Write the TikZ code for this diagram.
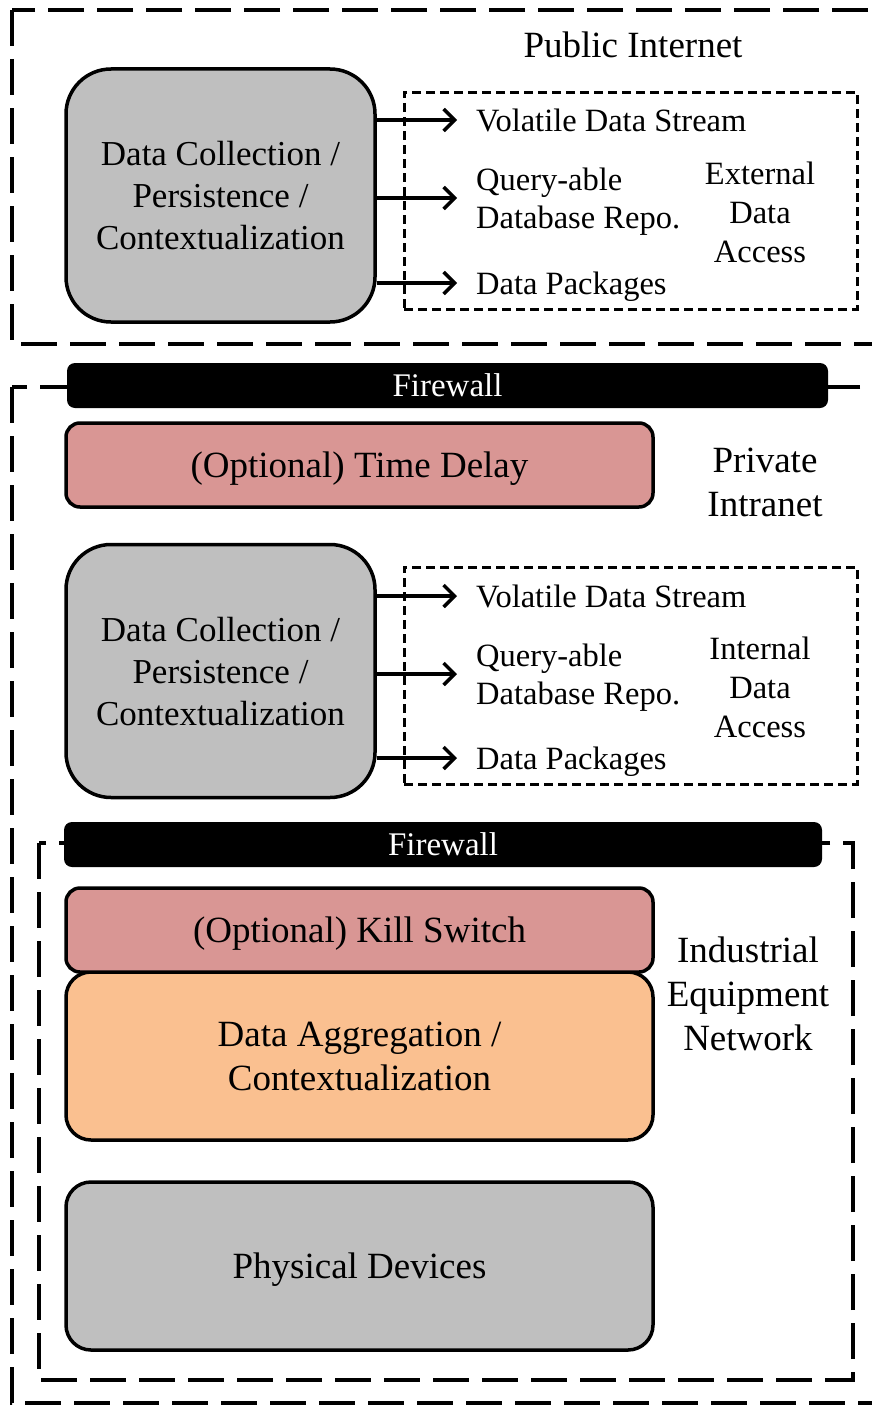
\documentclass[tikz,border=0pt]{standalone}
\usepackage{fontspec}
\setmainfont{Liberation Serif}
\usepackage{tikz}
\usetikzlibrary{arrows,arrows.meta,shapes}

\definecolor{boxgray}{HTML}{BFBFBF}
\definecolor{delaypink}{HTML}{D99694}
\definecolor{aggorange}{HTML}{FAC090}

\begin{document}
\begin{tikzpicture}[x=1pt,y=-1pt,
    zone/.style={line width=4pt,dash pattern=on 36pt off 13pt},
    access/.style={draw,line width=3pt,dash pattern=on 9pt off 5pt,
        minimum width=453pt,minimum height=217pt},
    block/.style={draw,line width=3.5pt,align=center,text depth=0pt,
        font=\fontsize{37}{44}\selectfont,minimum width=587pt},
    collect/.style={block,fill=boxgray,rounded corners=45pt,
        font=\fontsize{35}{42}\selectfont,
        minimum width=309pt,minimum height=253pt},
    firewall/.style={fill=black,text=white,rounded corners=8pt,
        minimum height=45pt,font=\fontsize{33}{38}\selectfont},
    feed/.style={anchor=west,inner xsep=19pt,align=left,text depth=0pt,
        font=\fontsize{32.5}{38}\selectfont},
    access label/.style={align=center,font=\fontsize{32.5}{39}\selectfont},
    zone label/.style={align=center,font=\fontsize{37}{44}\selectfont},
    flow/.style={->,>={Straight Barb[length=11pt,width=22pt]},line width=3.5pt}]
\useasboundingbox (0,0) rectangle (872,1405);

% network zones
\draw[zone] (12,10) rectangle (890,344);
\draw[zone] (12,387) rectangle (890,1403);
\draw[zone] (39,843) rectangle (853,1380);

% public internet
\node[zone label] at (633,45) (pub) {Public Internet};
\node[collect] at (220.5,195.5) (dc1) {Data Collection /\\Persistence /\\Contextualization};
\node[access] at (630.5,200.5) (ext) {};
\node[feed] at (457,120) (vds1) {Volatile Data Stream};
\node[feed] at (457,198) (qdb1) {Query-able\\Database Repo.};
\node[feed] at (457,283) (dp1) {Data Packages};
\node[access label] at (760,212) (extlbl) {External\\Data\\Access};
\draw[flow] (dc1.east |- vds1.west) -- (vds1.west);
\draw[flow] (dc1.east |- qdb1.west) -- (qdb1.west);
\draw[flow] (dc1.east |- dp1.west) -- (dp1.west);

% private intranet
\node[firewall,minimum width=761pt] at (447.5,385.5) (fw1) {Firewall};
\node[block,fill=delaypink,rounded corners=14pt,minimum height=84pt]
    at (359.5,465) (delay) {(Optional) Time Delay};
\node[zone label] at (765,482) (priv) {Private\\Intranet};
\node[collect] at (220.5,671) (dc2) {Data Collection /\\Persistence /\\Contextualization};
\node[access] at (630.5,675.5) (int) {};
\node[feed] at (457,596) (vds2) {Volatile Data Stream};
\node[feed] at (457,674) (qdb2) {Query-able\\Database Repo.};
\node[feed] at (457,758) (dp2) {Data Packages};
\node[access label] at (760,687) (intlbl) {Internal\\Data\\Access};
\draw[flow] (dc2.east |- vds2.west) -- (vds2.west);
\draw[flow] (dc2.east |- qdb2.west) -- (qdb2.west);
\draw[flow] (dc2.east |- dp2.west) -- (dp2.west);

% industrial equipment network
\node[firewall,minimum width=758pt] at (443,844.5) (fw2) {Firewall};
\node[block,fill=aggorange,rounded corners=25pt,minimum height=168pt]
    at (359.5,1056) (agg) {Data Aggregation /\\Contextualization};
\node[block,fill=delaypink,rounded corners=14pt,minimum height=84pt]
    at (359.5,930) (kill) {(Optional) Kill Switch};
\node[block,fill=boxgray,rounded corners=25pt,minimum height=168pt]
    at (359.5,1266) (phys) {Physical Devices};
\node[zone label] at (748,994) (ind) {Industrial\\Equipment\\Network};
\end{tikzpicture}
\end{document}
